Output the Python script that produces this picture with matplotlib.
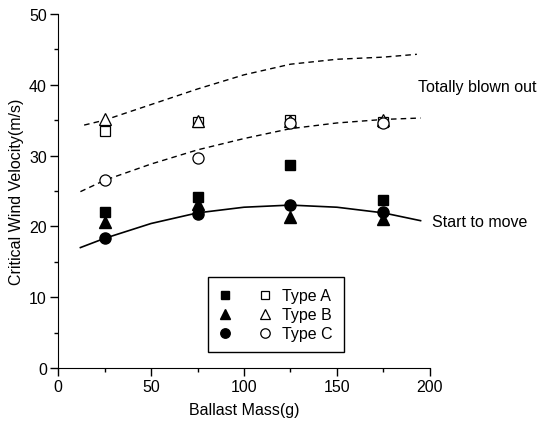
import matplotlib.pyplot as plt
from matplotlib.legend_handler import HandlerTuple

plt.rcParams['font.family'] = ['Liberation Sans', 'DejaVu Sans']
plt.rcParams['font.size'] = 11.5

# Ballast mass of the tested points
mass = [25, 75, 125, 175]

# start to move (filled markers)
start_a = [22.0, 24.1, 28.7, 23.7]
start_b = [20.6, 23.1, 21.3, 21.0]
start_c = [18.3, 21.8, 23.0, 22.0]

# totally blown out (open markers)
blown_a = [33.5, 34.8, 35.0, 34.8]
blown_b = [35.1, 34.9, 34.9, 35.0]
blown_c = [26.6, 29.7, 34.6, 34.6]

# fitted curves
upper_x = [14, 25, 50, 75, 100, 125, 150, 175, 193]
upper_y = [34.3, 35.0, 37.2, 39.4, 41.4, 42.9, 43.6, 43.9, 44.3]
lower_x = [12, 25, 50, 75, 100, 125, 150, 175, 195]
lower_y = [24.9, 26.5, 28.8, 30.8, 32.4, 33.8, 34.6, 35.1, 35.3]
solid_x = [12, 25, 50, 75, 100, 125, 150, 175, 195]
solid_y = [17.0, 18.3, 20.4, 21.9, 22.7, 23.0, 22.7, 21.9, 20.8]

fig = plt.figure(figsize=(5.38, 4.27), dpi=100)
ax = fig.add_axes([0.108, 0.136, 0.691, 0.829])

ax.plot(upper_x, upper_y, color='black', lw=1, ls=(0, (4, 3)))
ax.plot(lower_x, lower_y, color='black', lw=1, ls=(0, (4, 3)))
ax.plot(solid_x, solid_y, color='black', lw=1.2)

ms = 7
fa, = ax.plot(mass, start_a, 's', color='black', ms=ms, ls='none')
fb, = ax.plot(mass, start_b, '^', color='black', ms=ms + 1, ls='none')
fc, = ax.plot(mass, start_c, 'o', color='black', ms=ms + 1, ls='none')
oa, = ax.plot(mass, blown_a, 's', mfc='white', mec='black', mew=0.9, ms=ms, ls='none')
ob, = ax.plot(mass, blown_b, '^', mfc='white', mec='black', mew=0.9, ms=ms + 1, ls='none')
oc, = ax.plot(mass, blown_c, 'o', mfc='white', mec='black', mew=0.9, ms=ms + 1, ls='none')

ax.set_xlim(0, 200)
ax.set_ylim(0, 50)
ax.set_xticks([0, 50, 100, 150, 200])
ax.set_xticks([25, 75, 125, 175], minor=True)
ax.set_yticks([0, 10, 20, 30, 40, 50])
ax.set_yticks([5, 15, 25, 35, 45], minor=True)
ax.tick_params(which='major', direction='out', length=6, width=1, pad=2)
ax.tick_params(which='minor', direction='out', length=3, width=1)
ax.spines['top'].set_visible(False)
ax.spines['right'].set_visible(False)

ax.set_xlabel('Ballast Mass(g)', labelpad=6)
ax.set_ylabel('Critical Wind Velocity(m/s)', labelpad=4)

ax.text(193.5, 39.7, 'Totally blown out', va='center', ha='left', clip_on=False)
ax.text(201, 20.7, 'Start to move', va='center', ha='left', clip_on=False)

leg = ax.legend([(fa, oa), (fb, ob), (fc, oc)], ['Type A', 'Type B', 'Type C'],
                handler_map={tuple: HandlerTuple(ndivide=None, pad=1.8)},
                loc='lower center', bbox_to_anchor=(0.586, 0.035),
                handlelength=3.2, labelspacing=0.25, handletextpad=0.7,
                borderpad=0.7, markerscale=0.85, borderaxespad=0.2,
                fancybox=False, edgecolor='black', framealpha=1)
leg.get_frame().set_linewidth(1)

fig.savefig('out.png', dpi=100)
